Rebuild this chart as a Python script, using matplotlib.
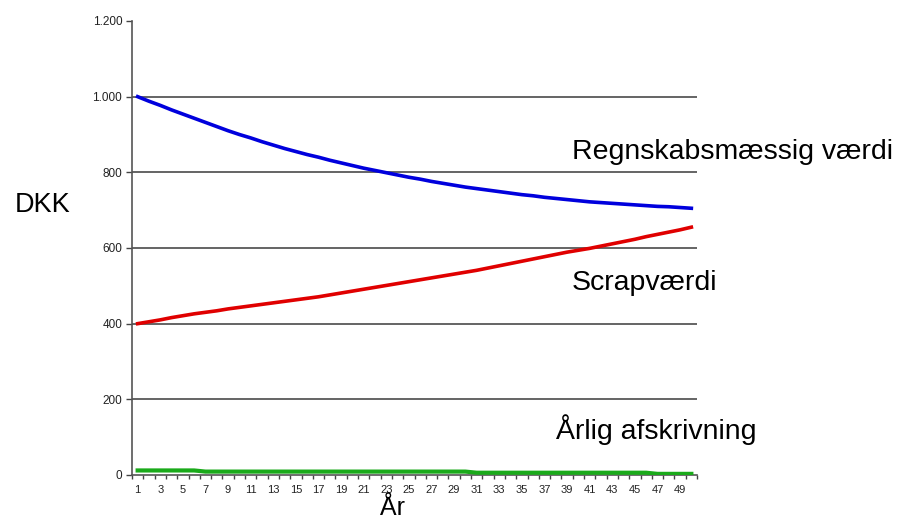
import matplotlib
matplotlib.use("Agg")
import matplotlib.pyplot as plt
import numpy as np

plt.rcParams['font.family'] = ['Liberation Sans', 'DejaVu Sans']

###############################################################################
# Values (DKK per year)

years = list(range(1, 51))

book_value = [1000, 988, 977, 965, 954, 943, 932, 921, 910, 900,
              891, 881, 872, 863, 855, 847, 840, 832, 825, 818,
              811, 805, 799, 793, 787, 782, 776, 771, 766, 761,
              757, 753, 749, 745, 741, 738, 734, 731, 728, 725,
              722, 720, 718, 716, 714, 712, 710, 709, 707, 705]

scrap_value = [400, 405, 410, 416, 421, 426, 430, 434, 439, 443,
               447, 451, 455, 459, 463, 467, 471, 476, 481, 486,
               491, 496, 501, 506, 511, 516, 521, 526, 531, 536,
               541, 547, 553, 559, 565, 571, 577, 583, 589, 594,
               599, 605, 611, 617, 623, 630, 636, 642, 648, 655]

depreciation = [12, 12, 12, 12, 12, 12, 9, 9, 9, 9,
                9, 9, 9, 9, 9, 9, 9, 9, 9, 9,
                9, 9, 9, 9, 9, 9, 9, 9, 9, 9,
                6, 6, 6, 6, 6, 6, 6, 6, 6, 6,
                6, 6, 6, 6, 6, 6, 3, 3, 3, 3]

y_ticks = [0, 200, 400, 600, 800, 1000, 1200]
y_labels = ["0", "200", "400", "600", "800", "1.000", "1.200"]

###############################################################################
# Plot

fig = plt.figure(figsize=(9.11, 5.21), dpi=100)
ax = fig.add_axes([0.1449, 0.0883, 0.6202, 0.8714])

for yv in y_ticks[1:-1]:
    ax.axhline(yv, color='#3a3a3a', lw=1.1, zorder=1)

ax.plot(years, book_value, color='#0000dd', lw=2.6, zorder=3)
ax.plot(years, scrap_value, color='#e00000', lw=2.6, zorder=3)
ax.plot(years, depreciation, color='#1aaa1a', lw=3.0, zorder=3)

ax.set_xlim(0.5, 50.5)
ax.set_ylim(0, 1200)

ax.set_yticks(y_ticks)
ax.set_yticklabels(y_labels, fontsize=8.5, color='#222222')
ax.set_xticks(years[::2])
ax.set_xticklabels([str(y) for y in years[::2]], fontsize=8, color='#222222')
ax.set_xticks(np.arange(0.5, 51, 1), minor=True)
ax.tick_params(axis='x', which='major', length=0, pad=7)
ax.tick_params(axis='x', which='minor', length=3, width=1, color='#444444',
               direction='out')
ax.tick_params(axis='y', length=4, width=1, color='#444444', direction='out',
               pad=3)

for side in ['top', 'right']:
    ax.spines[side].set_visible(False)
for side in ['left', 'bottom']:
    ax.spines[side].set_color('#555555')
    ax.spines[side].set_linewidth(1.2)

# labels placed in figure pixel coordinates
fig.text(15 / 911, 1 - 205 / 521, "DKK", fontsize=19.5, va='center', ha='left')
fig.text(393 / 911, 1 - 515 / 521, "År", fontsize=18, va='baseline',
         ha='center')
fig.text(572 / 911, 1 - 152 / 521, "Regnskabsmæssig værdi", fontsize=20.5,
         va='center', ha='left')
fig.text(572 / 911, 1 - 283 / 521, "Scrapværdi", fontsize=20.5,
         va='center', ha='left')
fig.text(556 / 911, 1 - 430 / 521, "Årlig afskrivning", fontsize=20.5,
         va='center', ha='left')

fig.savefig("out.png", dpi=100)
